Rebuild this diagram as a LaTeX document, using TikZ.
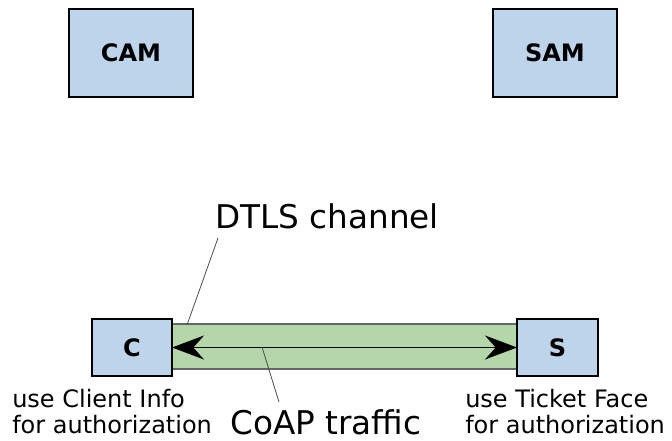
\documentclass[tikz,border=0pt]{standalone}
\usepackage{fontspec}
\setmainfont{DejaVu Sans}
\usetikzlibrary{arrows.meta}

\definecolor{boxblue}{RGB}{190,212,234}
\definecolor{chgreen}{RGB}{180,215,170}

\begin{document}
\begin{tikzpicture}[x=0.75pt, y=-0.75pt,
    party/.style={draw=black, fill=boxblue, line width=1.2pt, inner sep=0pt,
      outer sep=0pt, font=\fontsize{18}{20}\selectfont\bfseries},
    biglabel/.style={inner sep=0pt, anchor=base west, font=\fontsize{24.5}{28}\selectfont},
    note/.style={inner sep=0pt, anchor=base west, align=left,
      font=\fontsize{18}{19.5}\selectfont},
    pointer/.style={draw=black!70, line width=0.6pt},
    bigtip/.tip={Stealth[length=24pt,width=18pt,inset=8pt]}]

  \useasboundingbox (0,0) rectangle (672,440);

  %%%%%%%%%%%Draw the channel%%%%%%%%%%%%%
  \filldraw[fill=chgreen, draw=black!60, line width=1.2pt] (172,324) rectangle (517,369);

  %%%%%%%%%%%Draw the four parties%%%%%%%%
  \node[party, minimum width=93pt, minimum height=66pt] (cam) at (131,53) {CAM};
  \node[party, minimum width=93pt, minimum height=66pt] (sam) at (555,53) {SAM};
  \node[party, minimum width=60pt, minimum height=42.75pt] (c) at (132,347.5) {C};
  \node[party, minimum width=60.75pt, minimum height=42.75pt] (s) at (557.5,347.5) {S};

  %%%%%%%%%%%Draw the traffic%%%%%%%%%%%%%
  \draw[bigtip-bigtip, line width=1.2pt] (c.east) -- (s.west);

  %%%%%%%%%%%Draw the labels%%%%%%%%%%%%%%
  \node[biglabel] (dtls) at (215,228) {DTLS channel};
  \coordinate (dtlsfoot) at (187,325);
  \draw[pointer] (dtls.base west) ++(3,10) -- (dtlsfoot);

  \node[biglabel] (coap) at (230,434) {CoAP traffic};
  \coordinate (coapfoot) at (262,347);
  \draw[pointer] (coap.base west) ++(49,-32) -- (coapfoot);

  \node[note] (cinfo) at (12,433) {use Client Info\\for authorization};
  \node[note] (sinfo) at (465,433) {use Ticket Face\\for authorization};
\end{tikzpicture}
\end{document}
